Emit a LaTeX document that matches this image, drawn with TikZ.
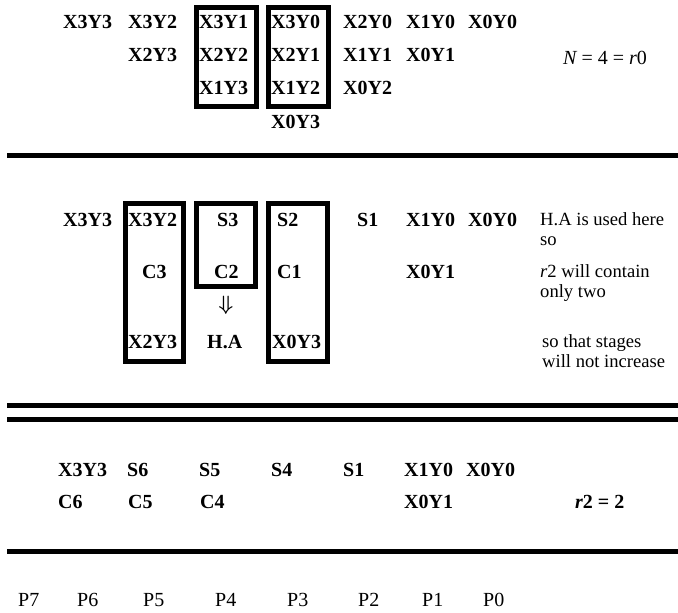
\documentclass[tikz,border=0pt]{standalone}
\usepackage{fontspec}
\setmainfont{Liberation Serif}
\begin{document}
\begin{tikzpicture}[x=1pt,y=-1pt,
  lbl/.style={inner sep=0pt,anchor=west,font=\fontsize{20}{24}\selectfont\bfseries},
  plain/.style={inner sep=0pt,anchor=west,font=\fontsize{20}{24}\selectfont},
  note/.style={inner sep=0pt,anchor=base west,font=\fontsize{18.6}{22}\selectfont},
  frame/.style={draw,line width=5pt},
  rule/.style={line width=5pt}]
\useasboundingbox (0,0) rectangle (678,613);

% ---------- partial products ----------
\node[lbl] (a11) at (63,22) {X3Y3};
\node[lbl] (a12) at (128,22) {X3Y2};
\node[lbl] (a13) at (199,22) {X3Y1};
\node[lbl] (a14) at (271,22) {X3Y0};
\node[lbl] (a15) at (343,22) {X2Y0};
\node[lbl] (a16) at (406,22) {X1Y0};
\node[lbl] (a17) at (468,22) {X0Y0};
\node[lbl] (a22) at (128,55) {X2Y3};
\node[lbl] (a23) at (199,55) {X2Y2};
\node[lbl] (a24) at (271,55) {X2Y1};
\node[lbl] (a25) at (343,55) {X1Y1};
\node[lbl] (a26) at (406,55) {X0Y1};
\node[lbl] (a33) at (199,88) {X1Y3};
\node[lbl] (a34) at (271,88) {X1Y2};
\node[lbl] (a35) at (343,88) {X0Y2};
\node[lbl] (a44) at (271,122) {X0Y3};
\node[plain] (nr0) at (563,58) {\itshape N\upshape\ = 4 = \itshape r\upshape 0};

\draw[frame] (196,7.5) rectangle (256,106);
\draw[frame] (268,7.5) rectangle (328.5,106);

\draw[rule] (7,155.5) -- (678,155.5);

% ---------- first reduction stage ----------
\node[lbl] (b11) at (63,220) {X3Y3};
\node[lbl] (b12) at (128,220) {X3Y2};
\node[lbl] (b13) at (217,220) {S3};
\node[lbl] (b14) at (277,220) {S2};
\node[lbl] (b15) at (357,220) {S1};
\node[lbl] (b16) at (406,220) {X1Y0};
\node[lbl] (b17) at (468,220) {X0Y0};
\node[lbl] (b22) at (142,272) {C3};
\node[lbl] (b23) at (214,272) {C2};
\node[lbl] (b24) at (277,272) {C1};
\node[lbl] (b26) at (406,272) {X0Y1};
\node[inner sep=0pt,font=\fontsize{22}{26}\selectfont\boldmath] (ha) at (226,305) {$\Downarrow$};
\node[lbl] (b32) at (128,342) {X2Y3};
\node[lbl] (b33) at (207,342) {H.A};
\node[lbl] (b34) at (272,342) {X0Y3};

\node[note] (n1) at (540,225) {H.A is used here};
\node[note] (n2) at (540,245) {so};
\node[note] (n3) at (540,277) {\itshape r\upshape 2 will contain};
\node[note] (n4) at (540,297) {only two};
\node[note] (n5) at (542,347) {so that stages};
\node[note] (n6) at (542,367) {will not increase};

\draw[frame] (125.5,203) rectangle (183.5,361.5);
\draw[frame] (196.5,203) rectangle (255.5,286);
\draw[frame] (268.5,203) rectangle (327.5,361.5);

\draw[rule] (7,405) -- (678,405);
\draw[rule] (7,419) -- (678,419);

% ---------- second reduction stage ----------
\node[lbl] (c11) at (58,470) {X3Y3};
\node[lbl] (c12) at (127,470) {S6};
\node[lbl] (c13) at (199,470) {S5};
\node[lbl] (c14) at (271,470) {S4};
\node[lbl] (c15) at (343,470) {S1};
\node[lbl] (c16) at (404,470) {X1Y0};
\node[lbl] (c17) at (466,470) {X0Y0};
\node[lbl] (c21) at (58,502) {C6};
\node[lbl] (c22) at (128,502) {C5};
\node[lbl] (c23) at (200,502) {C4};
\node[lbl] (c26) at (404,502) {X0Y1};
\node[lbl] (r2) at (575,502) {\itshape r\upshape 2 = 2};

\draw[rule] (7,551) -- (678,551);

% ---------- product bits ----------
\node[plain] (p7) at (18,600) {P7};
\node[plain] (p6) at (77,600) {P6};
\node[plain] (p5) at (143,600) {P5};
\node[plain] (p4) at (215,600) {P4};
\node[plain] (p3) at (287,600) {P3};
\node[plain] (p2) at (358,600) {P2};
\node[plain] (p1) at (422,600) {P1};
\node[plain] (p0) at (483,600) {P0};
\end{tikzpicture}
\end{document}
